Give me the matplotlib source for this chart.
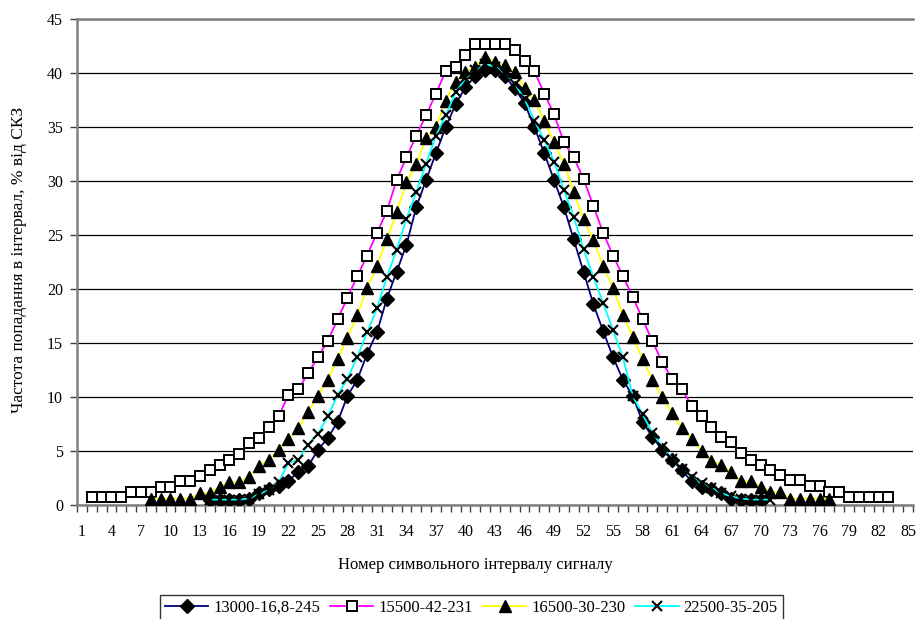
import numpy as np
import matplotlib.pyplot as plt

plt.rcParams['font.family'] = ['Liberation Serif', 'DejaVu Serif']

# categories 1..85, tick labels every 3rd
categories = np.arange(1, 86)
tick_labels = [str(c) for c in range(1, 86, 3)]

# 13000-16,8-245 (starts at interval 14)
start_diamond = 14
vals_diamond = [0.5, 0.5, 0.5, 0.5, 0.6, 1.1, 1.5, 1.8, 2.2, 3.1,
                3.6, 5.1, 6.2, 7.7, 10.1, 11.6, 14.0, 16.0, 19.1, 21.6,
                24.1, 27.6, 30.1, 32.6, 35.0, 37.1, 38.7, 39.7, 40.3, 40.3,
                39.7, 38.6, 37.2, 35.0, 32.6, 30.1, 27.6, 24.6, 21.6, 18.6,
                16.1, 13.7, 11.6, 10.1, 7.7, 6.3, 5.1, 4.2, 3.2, 2.2,
                1.7, 1.5, 1.1, 0.6, 0.5, 0.5, 0.5]

# 15500-42-231 (starts at interval 2)
start_square = 2
vals_square = [0.7, 0.7, 0.7, 0.7, 1.2, 1.2, 1.2, 1.7, 1.7, 2.2,
               2.2, 2.7, 3.2, 3.7, 4.2, 4.7, 5.7, 6.2, 7.2, 8.2,
               10.2, 10.7, 12.2, 13.7, 15.2, 17.2, 19.2, 21.2, 23.1, 25.2,
               27.2, 30.1, 32.2, 34.2, 36.1, 38.1, 40.2, 40.6, 41.7, 42.7,
               42.7, 42.7, 42.7, 42.1, 41.1, 40.2, 38.1, 36.2, 33.6, 32.2,
               30.2, 27.7, 25.2, 23.1, 21.2, 19.3, 17.2, 15.2, 13.2, 11.7,
               10.7, 9.2, 8.2, 7.2, 6.3, 5.8, 4.8, 4.2, 3.7, 3.2,
               2.8, 2.3, 2.3, 1.8, 1.8, 1.2, 1.2, 0.7, 0.7, 0.7,
               0.7, 0.7]

# 16500-30-230 (starts at interval 8)
start_triangle = 8
vals_triangle = [0.6, 0.6, 0.6, 0.6, 0.6, 1.1, 1.1, 1.7, 2.1, 2.1,
                 2.6, 3.6, 4.2, 5.1, 6.1, 7.1, 8.6, 10.1, 11.6, 13.5,
                 15.5, 17.6, 20.1, 22.1, 24.6, 27.1, 29.9, 31.6, 34.0, 35.0,
                 37.4, 39.2, 40.1, 40.6, 41.5, 41.0, 40.7, 40.1, 38.6, 37.5,
                 35.6, 33.6, 31.6, 29.0, 26.5, 24.5, 22.1, 20.1, 17.6, 15.6,
                 13.5, 11.6, 10.0, 8.5, 7.1, 6.1, 5.0, 4.1, 3.7, 3.1,
                 2.2, 2.2, 1.7, 1.2, 1.2, 0.6, 0.6, 0.6, 0.6, 0.6]

# 22500-35-205 (starts at interval 14)
start_cross = 14
vals_cross = [0.5, 0.5, 0.5, 0.5, 0.6, 1.0, 1.4, 2.1, 3.9, 4.2,
              5.6, 6.6, 8.2, 10.2, 11.7, 13.7, 16.0, 18.2, 21.1, 23.6,
              26.5, 29.0, 31.6, 34.2, 36.1, 38.2, 39.5, 40.3, 40.8, 40.6,
              40.0, 39.0, 37.6, 35.6, 33.8, 31.8, 29.2, 26.7, 23.7, 21.1,
              18.7, 16.2, 13.7, 10.1, 8.4, 6.7, 5.4, 4.3, 3.3, 2.6,
              2.0, 1.6, 1.1, 0.8, 0.6, 0.5, 0.5, 0.5]

labels = ['13000-16,8-245', '15500-42-231', '16500-30-230', '22500-35-205']

fig = plt.figure(figsize=(9.17, 6.19), dpi=100)
ax = fig.add_axes([0.084, 0.1842, 0.9116, 0.7851])

x_d = np.arange(start_diamond, start_diamond + len(vals_diamond))
x_s = np.arange(start_square, start_square + len(vals_square))
x_t = np.arange(start_triangle, start_triangle + len(vals_triangle))
x_c = np.arange(start_cross, start_cross + len(vals_cross))

ax.plot(x_d, vals_diamond, color='#000080', lw=1.3, marker='D', ms=7,
        mfc='black', mec='black', label=labels[0], zorder=3)
ax.plot(x_s, vals_square, color='#FF00FF', lw=1.3, marker='s', ms=7,
        mfc='white', mec='black', mew=1.4, label=labels[1], zorder=4)
ax.plot(x_t, vals_triangle, color='#FFFF00', lw=1.3, marker='^', ms=8.5,
        mfc='black', mec='black', label=labels[2], zorder=5)
ax.plot(x_c, vals_cross, color='#00FFFF', lw=1.3, marker='x', ms=7.5,
        mfc='black', mec='black', mew=1.5, label=labels[3], zorder=6)

ax.set_xlim(0.5, 85.5)
ax.set_ylim(0, 45)
ax.set_yticks(np.arange(0, 46, 5))
ax.yaxis.grid(True, color='black', lw=0.9)
ax.set_axisbelow(True)

ax.set_xticks(np.arange(1, 86, 3))
ax.set_xticklabels(tick_labels)
ax.set_xticks(np.arange(0.5, 86, 1), minor=True)
ax.tick_params(axis='x', which='major', length=0, pad=14, labelsize=11.5)
ax.tick_params(axis='x', which='minor', length=5, width=1, color='#404040')
ax.tick_params(axis='y', length=5, width=1, color='#404040', labelsize=11.5, pad=5)

for side in ['left', 'bottom', 'top']:
    ax.spines[side].set_color('#808080')
    ax.spines[side].set_linewidth(1.8)
ax.spines['right'].set_visible(False)

ax.set_xlabel('Номер символьного інтервалу сигналу', fontsize=12)
ax.xaxis.set_label_coords(0.476, -0.108)
ax.set_ylabel('Частота попадання в інтервал, % від СКЗ', fontsize=12.5, va='center')
ax.yaxis.set_label_coords(-0.069, 0.505)

leg = fig.legend(loc='upper center', bbox_to_anchor=(0.514, 0.0388), ncol=4,
                 fontsize=12, frameon=True, fancybox=False, edgecolor='black',
                 handlelength=2.6, columnspacing=0.6, handletextpad=0.3,
                 borderpad=0.3, borderaxespad=0)
leg.get_frame().set_linewidth(1.0)

plt.savefig('out.png', dpi=100)
